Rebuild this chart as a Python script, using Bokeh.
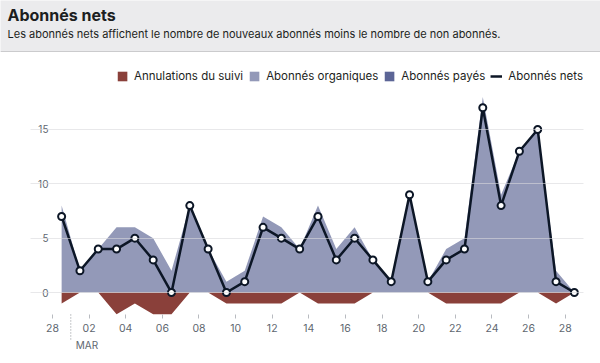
from bokeh.plotting import figure
from bokeh.models import Range1d, FixedTicker, Legend, LegendItem, ColumnDataSource, Span
from bokeh.layouts import column
from bokeh.embed import file_html
from bokeh.resources import INLINE
from bokeh.core.properties import value
import pandas as pd

# ---------------- data ----------------
title_text = "Abonnés nets"
subtitle_text = "Les abonnés nets affichent le nombre de nouveaux abonnés moins le nombre de non abonnés."
first_day = "2023-02-28"
last_day_end = "2023-03-29"
organic = [8, 2, 4, 6, 6, 5, 2, 8, 4, 1, 2, 7, 6, 4, 8, 4, 6, 3, 1, 9, 1, 4, 5, 18, 9, 13, 15, 2, 0]
cancellations = [-1, 0, 0, -2, -1, -2, -2, 0, 0, -1, -1, -1, -1, 0, -1, -1, -1, 0, 0, 0, 0, -1, -1, -1, -1, 0, 0, -1, 0]
paid = [0, 0, 0, 0, 0, 0, 0, 0, 0, 0, 0, 0, 0, 0, 0, 0, 0, 0, 0, 0, 0, 0, 0, 0, 0, 0, 0, 0, 0]
net = [7, 2, 4, 4, 5, 3, 0, 8, 4, 0, 1, 6, 5, 4, 7, 3, 5, 3, 1, 9, 1, 3, 4, 17, 8, 13, 15, 1, 0]
tick_days = ["2023-02-28", "2023-03-02", "2023-03-04", "2023-03-06", "2023-03-08", "2023-03-10",
             "2023-03-12", "2023-03-14", "2023-03-16", "2023-03-18", "2023-03-20", "2023-03-22",
             "2023-03-24", "2023-03-26", "2023-03-28"]
tick_labels = ["28", "02", "04", "06", "08", "10", "12", "14", "16", "18", "20", "22", "24", "26", "28"]
y_ticks = [0, 5, 10, 15]
month_start = "2023-03-01"
month_label = "MAR"
series_names = ["Annulations du suivi", "Abonnés organiques", "Abonnés payés", "Abonnés nets"]

# ---------------- styles ----------------
FONT = "Inter"
C_CANCEL = "#8a403a"
C_ORGANIC = "#9399b8"
C_PAID = "#5c6596"
C_NET = "#0c1626"
C_TEXT = "#1c1e21"
C_AXIS = "#606770"

days = pd.date_range(first_day + " 12:00", periods=len(net), freq="D")
src = ColumnDataSource(dict(x=days, organic=organic, cancel=cancellations, paid=paid, net=net,
                            zero=[0] * len(net)))

def ms(d):
    return pd.Timestamp(d).timestamp() * 1000.0

# ---------------- header ----------------
hdr = figure(width=600, height=52, x_range=Range1d(0, 600), y_range=Range1d(52, 0),
             toolbar_location=None, output_backend="svg", min_border=0)
hdr.frame_align = False
hdr.axis.visible = False
hdr.grid.visible = False
hdr.outline_line_color = None
hdr.background_fill_color = "#ebebed"
hdr.border_fill_color = "#ebebed"
hdr.text(x=[7], y=[14.5], text=[title_text], text_font=value(FONT), text_font_size="16px",
         text_font_style="bold", text_baseline="middle", text_color=C_TEXT)
hdr.text(x=[7], y=[33.5], text=[subtitle_text], text_font=value(FONT), text_font_size="11px",
         text_baseline="middle", text_color=C_TEXT)
hdr.add_layout(Span(location=51.3, dimension="width", line_color="#cbcbcd", line_width=1.5))

# ---------------- main chart ----------------
x_start = pd.Timestamp(first_day) - pd.Timedelta(hours=28.8)   # room for axis labels
p = figure(width=600, height=311, x_axis_type="datetime",
           x_range=Range1d(x_start, pd.Timestamp(last_day_end)),
           y_range=Range1d(-6.53, 20.52),
           toolbar_location=None, output_backend="svg",
           min_border_left=30, min_border_right=17, min_border_top=17, min_border_bottom=0)
p.frame_align = False
p.outline_line_color = None
p.background_fill_color = "white"
p.border_fill_color = "white"

r_org = p.varea(x="x", y1="zero", y2="organic", source=src, fill_color=C_ORGANIC)
r_can = p.varea(x="x", y1="cancel", y2="zero", source=src, fill_color=C_CANCEL)
r_paid = p.varea(x="x", y1="zero", y2="paid", source=src, fill_color=C_PAID)
r_net = p.line(x="x", y="net", source=src, line_color=C_NET, line_width=2.5)
p.scatter(x="x", y="net", source=src, size=7, fill_color="white", line_color=C_NET, line_width=2)

# axes
p.yaxis.ticker = FixedTicker(ticks=y_ticks)
p.yaxis.fixed_location = ms(first_day)
p.yaxis.axis_line_color = None
p.yaxis.major_tick_line_color = None
p.yaxis.major_tick_out = 0
p.yaxis.major_tick_in = 0
p.yaxis.minor_tick_line_color = None
p.yaxis.minor_tick_out = 0
p.yaxis.major_label_standoff = 4
p.yaxis.major_label_text_font = FONT
p.yaxis.major_label_text_font_size = "10px"
p.yaxis.major_label_text_color = C_AXIS

tick_ms = [ms(d) for d in tick_days]
p.xaxis.ticker = FixedTicker(ticks=tick_ms, minor_ticks=[])
p.xaxis.major_label_overrides = {t: l for t, l in zip(tick_ms, tick_labels)}
p.xaxis.fixed_location = -2.02
p.xaxis.axis_line_color = None
p.xaxis.major_tick_line_color = "#b8bbc0"
p.xaxis.major_tick_in = 0
p.xaxis.major_tick_out = 4
p.xaxis.minor_tick_line_color = None
p.xaxis.major_label_standoff = 6
p.xaxis.major_label_text_font = FONT
p.xaxis.major_label_text_font_size = "10.5px"
p.xaxis.major_label_text_color = C_AXIS

p.xgrid.visible = False
p.ygrid.ticker = FixedTicker(ticks=y_ticks)
p.ygrid.bounds = (ms(first_day), ms(last_day_end))
p.ygrid.grid_line_color = "#d8d8dc"
p.ygrid.grid_line_alpha = 0.6
p.ygrid.level = "guide"

# month marker
ms_src = ColumnDataSource(dict(x=[pd.Timestamp(month_start)], y0=[-2.02], y1=[-4.42],
                               ty=[-4.85], t=[month_label]))
p.segment(x0="x", y0="y0", x1="x", y1="y1", source=ms_src, line_color="#8d9096",
          line_width=1, line_dash="1 2")
p.text(x="x", y="ty", text="t", source=ms_src, x_offset=5, text_font=value(FONT),
       text_font_size="10px", text_baseline="middle", text_align="left", text_color=C_AXIS)

legend = Legend(items=[LegendItem(label=series_names[0], renderers=[r_can]),
                       LegendItem(label=series_names[1], renderers=[r_org]),
                       LegendItem(label=series_names[2], renderers=[r_paid]),
                       LegendItem(label=series_names[3], renderers=[r_net])],
                location="top_right", orientation="horizontal",
                glyph_width=12, glyph_height=12, label_height=12, label_standoff=6,
                spacing=5, padding=0, margin=0, border_line_color=None,
                background_fill_alpha=0, label_text_font=FONT, label_text_font_size="11.5px",
                label_text_color=C_TEXT)
p.add_layout(legend)

layout = column(hdr, p, spacing=0)
open("out.html", "w").write(file_html(layout, INLINE))
